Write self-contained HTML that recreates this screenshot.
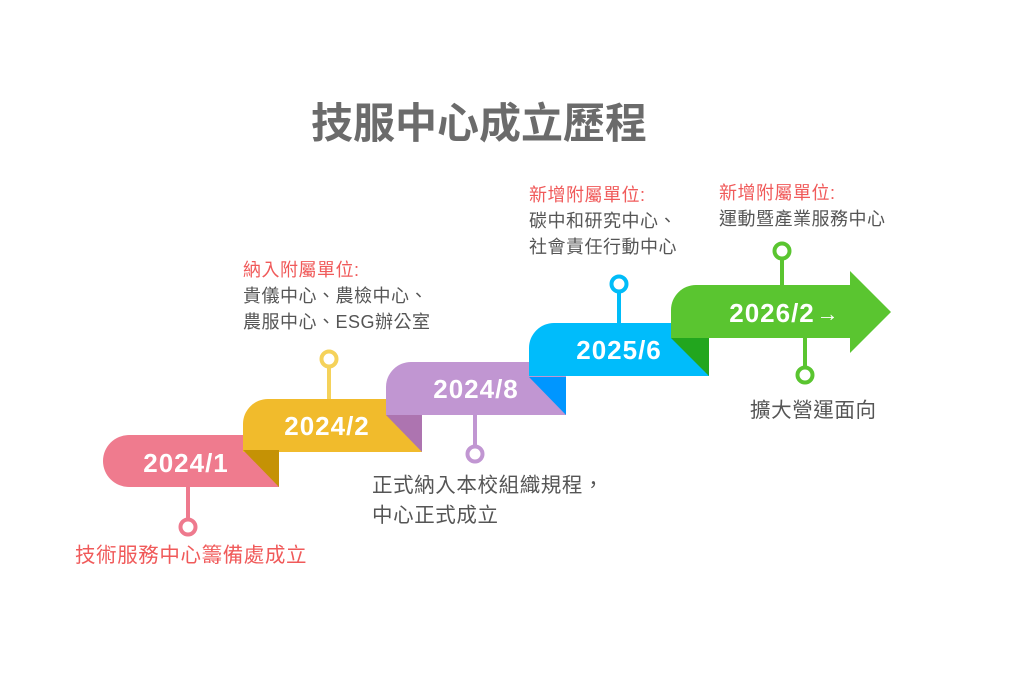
<!DOCTYPE html>
<html><head><meta charset="utf-8"><style>
html,body{margin:0;padding:0;background:#fff;}
svg{display:block;font-family:"Liberation Sans","Noto Sans CJK TC",sans-serif;}
</style></head><body>
<svg width="1024" height="700" viewBox="0 0 1024 700" xmlns="http://www.w3.org/2000/svg">
<rect width="1024" height="700" fill="#fff"/>
<text x="479" y="138" text-anchor="middle" font-size="42" font-weight="bold" fill="#6b6b6b" font-family="Liberation Sans, Noto Sans CJK TC, sans-serif">技服中心成立歷程</text>

<g stroke-width="4" fill="#fff">
<line x1="188" y1="486" x2="188" y2="519" stroke="#ee7a8e"/>
<circle cx="188" cy="527" r="7.5" stroke="#ee7a8e"/>
<line x1="329" y1="367" x2="329" y2="400" stroke="#f5d25a"/>
<circle cx="329" cy="359" r="7.5" stroke="#f5d25a"/>
<line x1="475" y1="414" x2="475" y2="446" stroke="#c196d2"/>
<circle cx="475" cy="454" r="7.5" stroke="#c196d2"/>
<line x1="619" y1="292" x2="619" y2="324" stroke="#00bcf8"/>
<circle cx="619" cy="284" r="7.5" stroke="#00bcf8"/>
<line x1="782" y1="259" x2="782" y2="286" stroke="#5ac530"/>
<circle cx="782" cy="251" r="7.5" stroke="#5ac530"/>
<line x1="805" y1="337" x2="805" y2="367" stroke="#5ac530"/>
<circle cx="805" cy="375" r="7.5" stroke="#5ac530"/>
</g>

<path d="M129,435 H279 V487 H129 A26,26 0 0 1 129,435 Z" fill="#ef7b8e"/>
<path d="M268,399 H422 V452 H243 V424 A25,25 0 0 1 268,399 Z" fill="#f1bb2c"/>
<polygon points="243,450 279,450 279,487" fill="#c59205"/>
<path d="M411,362 H566 V415 H386 V387 A25,25 0 0 1 411,362 Z" fill="#c196d2"/>
<polygon points="386,415 422,415 422,452" fill="#ad74b0"/>
<path d="M554,323 H709 V376 H529 V348 A25,25 0 0 1 554,323 Z" fill="#00bcfb"/>
<polygon points="529,377 566,377 566,415" fill="#0096ff"/>
<path d="M696,285 H850 V271 L891,312 L850,353 V338 H671 V310 A25,25 0 0 1 696,285 Z" fill="#5ac530"/>
<polygon points="671,338 709,338 709,376" fill="#22a61e"/>

<g font-size="26" font-weight="bold" fill="#fff" text-anchor="middle" letter-spacing="1">
<text x="186" y="472">2024/1</text>
<text x="327" y="435">2024/2</text>
<text x="476" y="398">2024/8</text>
<text x="619" y="359">2025/6</text>
<text x="772" y="322">2026/2</text>
<text x="828" y="321" font-size="22">→</text>
</g>

<g font-size="18" fill="#555" letter-spacing="0.5">
<text x="243" y="276" fill="#f05a5a">納入附屬單位:</text>
<text x="243" y="302">貴儀中心、農檢中心、</text>
<text x="243" y="328">農服中心、ESG辦公室</text>
<text x="529" y="201" fill="#f05a5a">新增附屬單位:</text>
<text x="529" y="227">碳中和研究中心、</text>
<text x="529" y="253">社會責任行動中心</text>
<text x="719" y="199" fill="#f05a5a">新增附屬單位:</text>
<text x="719" y="225">運動暨產業服務中心</text>
</g>
<g font-size="20.5" fill="#555" letter-spacing="0.6">
<text x="372" y="492">正式納入本校組織規程，</text>
<text x="372" y="522">中心正式成立</text>
<text x="750" y="417">擴大營運面向</text>
<text x="75" y="562" fill="#f05a5a">技術服務中心籌備處成立</text>
</g>
</svg>
</body></html>
